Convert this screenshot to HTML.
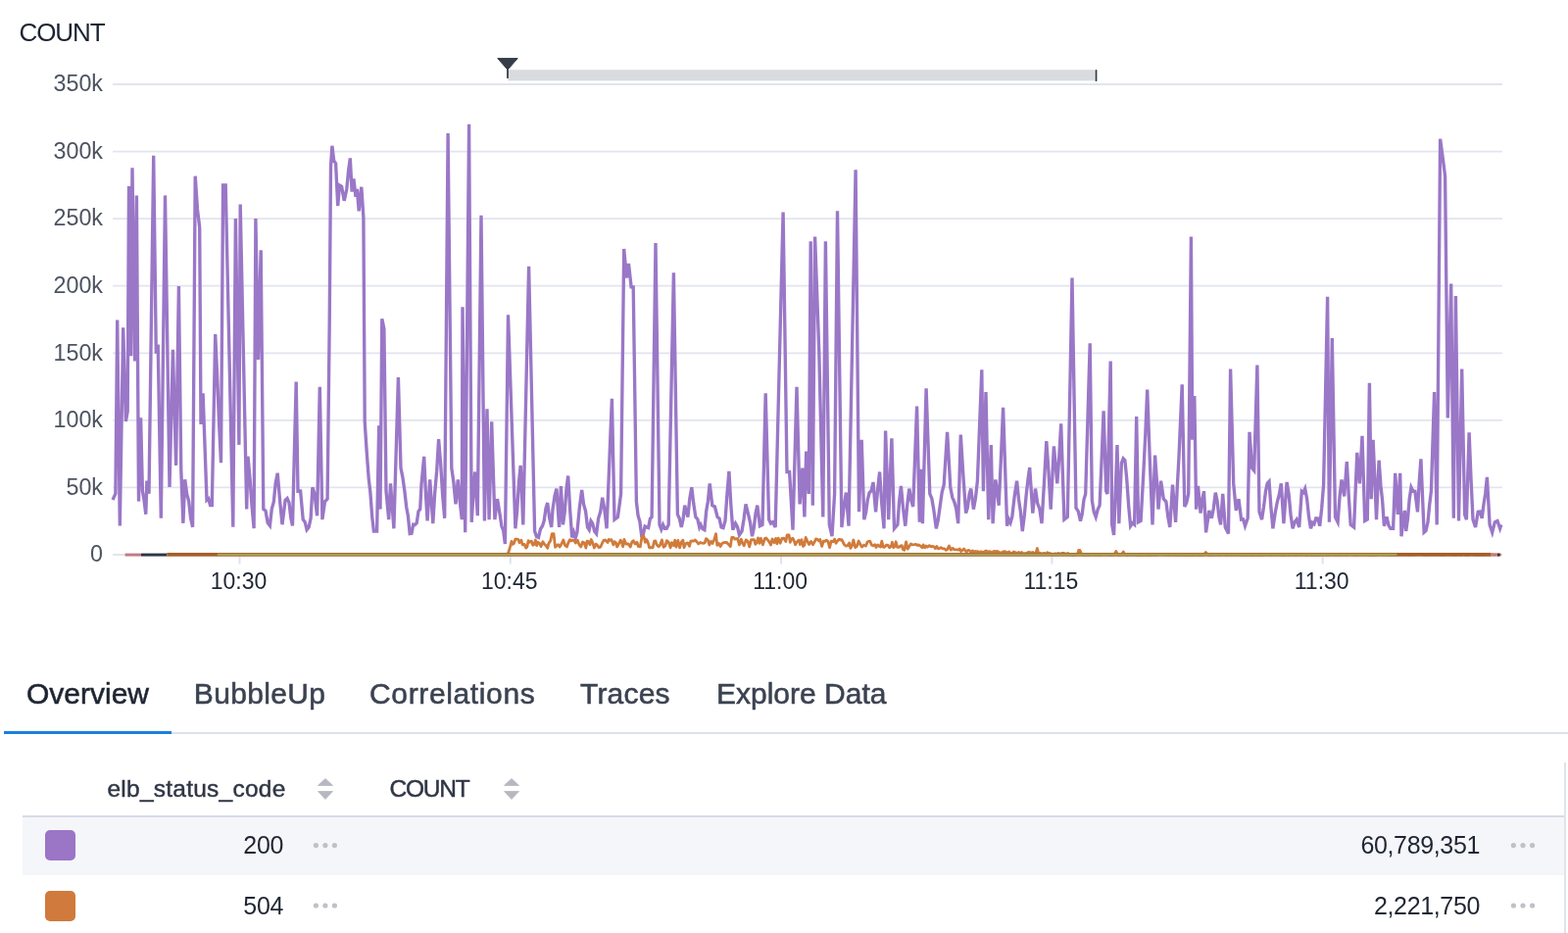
<!DOCTYPE html>
<html><head><meta charset="utf-8"><title>Honeycomb query</title>
<style>
html,body{margin:0;padding:0;background:#fff;}
body{width:1600px;height:952px;position:relative;overflow:hidden;font-family:"Liberation Sans",Arial,sans-serif;}
.abs{position:absolute;white-space:nowrap;line-height:1;}
.tab{position:absolute;top:693px;font-size:30px;line-height:1;color:#3b4250;-webkit-text-stroke:0.55px #3b4250;}
.hdr{position:absolute;top:792.8px;font-size:24.5px;line-height:1;color:#2f3644;-webkit-text-stroke:0.45px #2f3644;}
.sort{position:absolute;top:794px;width:16px;height:22px;}
.sw{position:absolute;left:46px;width:30.5px;height:30.5px;border-radius:5px;}
.num{position:absolute;font-size:25px;line-height:1;color:#1f2633;text-align:right;letter-spacing:-0.35px;}
.dots{position:absolute;width:26px;height:6px;}
.dots i{position:absolute;top:0;width:5.4px;height:5.4px;border-radius:50%;background:#c3c6cf;}
</style></head>
<body>
<div class="abs" style="left:19.5px;top:19.6px;font-size:26px;letter-spacing:-1.1px;color:#1b2230;">COUNT</div>
<svg width="1600" height="640" viewBox="0 0 1600 640" style="position:absolute;left:0;top:0">
<line x1="115" y1="86.00" x2="1533" y2="86.00" stroke="#e1e5ef" stroke-width="1.8"/>
<line x1="115" y1="154.57" x2="1533" y2="154.57" stroke="#e1e5ef" stroke-width="1.8"/>
<line x1="115" y1="223.14" x2="1533" y2="223.14" stroke="#e1e5ef" stroke-width="1.8"/>
<line x1="115" y1="291.71" x2="1533" y2="291.71" stroke="#e1e5ef" stroke-width="1.8"/>
<line x1="115" y1="360.28" x2="1533" y2="360.28" stroke="#e1e5ef" stroke-width="1.8"/>
<line x1="115" y1="428.85" x2="1533" y2="428.85" stroke="#e1e5ef" stroke-width="1.8"/>
<line x1="115" y1="497.42" x2="1533" y2="497.42" stroke="#e1e5ef" stroke-width="1.8"/>
<line x1="115" y1="565.99" x2="1533" y2="565.99" stroke="#e1e5ef" stroke-width="1.8"/>
<line x1="244.5" y1="566" x2="244.5" y2="575.6" stroke="#dfe3ec" stroke-width="2"/>
<line x1="520.8" y1="566" x2="520.8" y2="575.6" stroke="#dfe3ec" stroke-width="2"/>
<line x1="797.1" y1="566" x2="797.1" y2="575.6" stroke="#dfe3ec" stroke-width="2"/>
<line x1="1073.4" y1="566" x2="1073.4" y2="575.6" stroke="#dfe3ec" stroke-width="2"/>
<line x1="1349.7" y1="566" x2="1349.7" y2="575.6" stroke="#dfe3ec" stroke-width="2"/>
<text x="105" y="93.2" text-anchor="end" font-family="Liberation Sans, sans-serif" font-size="23.3" fill="#4d5361">350k</text>
<text x="105" y="161.8" text-anchor="end" font-family="Liberation Sans, sans-serif" font-size="23.3" fill="#4d5361">300k</text>
<text x="105" y="230.3" text-anchor="end" font-family="Liberation Sans, sans-serif" font-size="23.3" fill="#4d5361">250k</text>
<text x="105" y="298.9" text-anchor="end" font-family="Liberation Sans, sans-serif" font-size="23.3" fill="#4d5361">200k</text>
<text x="105" y="367.5" text-anchor="end" font-family="Liberation Sans, sans-serif" font-size="23.3" fill="#4d5361">150k</text>
<text x="105" y="436.0" text-anchor="end" font-family="Liberation Sans, sans-serif" font-size="23.3" fill="#4d5361">100k</text>
<text x="105" y="504.6" text-anchor="end" font-family="Liberation Sans, sans-serif" font-size="23.3" fill="#4d5361">50k</text>
<text x="105" y="573.2" text-anchor="end" font-family="Liberation Sans, sans-serif" font-size="23.3" fill="#4d5361">0</text>
<text x="243.5" y="601" text-anchor="middle" font-family="Liberation Sans, sans-serif" font-size="23" fill="#1f2633">10:30</text>
<text x="519.8" y="601" text-anchor="middle" font-family="Liberation Sans, sans-serif" font-size="23" fill="#1f2633">10:45</text>
<text x="796.1" y="601" text-anchor="middle" font-family="Liberation Sans, sans-serif" font-size="23" fill="#1f2633">11:00</text>
<text x="1072.4" y="601" text-anchor="middle" font-family="Liberation Sans, sans-serif" font-size="23" fill="#1f2633">11:15</text>
<text x="1348.7" y="601" text-anchor="middle" font-family="Liberation Sans, sans-serif" font-size="23" fill="#1f2633">11:30</text>
<rect x="518.3" y="71.2" width="598.6" height="11.2" fill="#dadbdf"/>
<path d="M507.8,59.6 L528.2,59.6 L518.6,70.5 L517.4,70.5 Z" fill="#363c48" stroke="#363c48" stroke-width="1" stroke-linejoin="round"/>
<line x1="518" y1="70" x2="518" y2="79.2" stroke="#363c48" stroke-width="1.8" stroke-linecap="round"/>
<line x1="1118.5" y1="72" x2="1118.5" y2="82.2" stroke="#363c48" stroke-width="1.8" stroke-linecap="round"/>
<path d="M115.0,510.0 L117.9,503.7 L119.7,326.6 L122.3,536.5 L125.7,334.4 L128.4,430.0 L130.2,419.7 L131.5,190.0 L133.6,363.3 L135.0,171.3 L137.6,368.6 L139.4,199.4 L141.5,511.6 L143.6,426.3 L145.4,501.0 L147.1,510.7 L148.8,524.7 L149.9,490.6 L152.0,503.7 L156.7,158.7 L159.3,360.7 L161.2,351.5 L164.3,528.7 L168.5,199.4 L173.0,497.0 L176.4,356.7 L179.6,474.9 L182.4,292.0 L184.8,480.0 L186.9,533.9 L188.7,489.3 L190.7,504.3 L192.6,511.1 L194.6,528.7 L196.6,537.8 L199.2,179.7 L201.5,213.9 L203.7,232.0 L205.0,432.9 L207.1,401.4 L211.0,510.3 L212.8,508.9 L214.5,515.5 L216.3,515.5 L219.7,341.0 L221.6,383.1 L223.6,432.1 L225.5,472.2 L227.6,189.0 L230.2,189.0 L237.8,537.8 L240.4,223.0 L243.9,453.9 L245.2,208.6 L251.7,519.5 L253.0,465.7 L255.0,488.0 L257.1,516.9 L259.1,539.2 L260.9,223.0 L263.5,367.0 L266.2,255.3 L268.8,519.5 L271.0,521.2 L273.2,533.6 L275.4,536.5 L277.3,519.4 L279.3,512.3 L281.2,493.0 L283.2,482.7 L285.6,510.9 L288.0,535.2 L291.1,510.3 L293.1,508.5 L295.0,512.9 L296.8,528.4 L298.5,536.5 L302.2,389.6 L304.0,501.2 L306.6,501.0 L309.2,530.0 L311.1,532.4 L313.1,540.6 L315.1,538.1 L317.1,528.8 L318.9,497.3 L321.0,503.9 L323.6,526.2 L326.3,394.9 L328.9,530.1 L331.5,511.8 L334.1,509.1 L336.2,330.0 L337.5,170.0 L338.9,148.8 L340.7,164.0 L342.6,166.7 L344.7,210.0 L346.5,189.0 L348.6,190.3 L351.2,204.8 L353.8,193.0 L355.6,174.0 L357.3,161.4 L359.1,195.6 L360.9,182.4 L363.0,200.8 L364.4,193.0 L366.2,215.3 L368.8,190.8 L370.9,221.8 L372.2,430.3 L374.2,461.0 L376.2,488.1 L377.9,502.6 L379.7,527.1 L381.4,542.0 L384.6,542.0 L386.7,434.3 L388.0,519.6 L389.8,325.3 L391.9,335.8 L394.0,501.2 L396.7,530.1 L398.5,493.4 L401.9,539.3 L406.4,385.1 L409.0,477.6 L410.9,487.1 L412.9,501.2 L414.7,517.3 L416.4,526.5 L418.2,544.6 L420.0,544.3 L421.7,535.1 L423.5,535.4 L425.2,533.8 L427.0,521.6 L428.7,519.6 L430.0,494.7 L432.7,465.8 L434.4,502.5 L436.1,531.5 L438.7,489.4 L441.8,534.1 L443.7,502.9 L445.7,480.4 L447.6,448.2 L449.6,472.4 L451.7,505.8 L453.7,528.8 L457.1,135.9 L460.8,477.6 L462.9,492.3 L465.0,514.4 L467.3,489.4 L469.3,511.6 L471.3,530.1 L472.0,313.3 L474.7,543.3 L478.6,126.8 L481.2,532.8 L482.9,505.2 L484.7,481.5 L487.3,526.2 L491.0,219.7 L494.4,531.5 L497.0,417.2 L499.1,530.1 L501.7,430.3 L504.9,530.1 L507.5,509.1 L510.1,524.9 L511.9,537.1 L513.6,541.1 L515.4,555.1 L518.5,321.3 L525.9,539.3 L527.7,520.5 L529.4,493.3 L531.2,475.0 L533.8,535.4 L539.6,271.8 L545.6,542.0 L547.5,547.6 L549.5,548.5 L551.5,539.8 L553.5,536.7 L555.2,531.4 L557.0,518.5 L558.7,513.1 L560.7,528.6 L562.7,538.0 L564.0,519.6 L566.0,506.1 L567.9,498.6 L570.6,538.0 L572.4,496.0 L574.5,535.4 L576.2,522.5 L578.0,498.9 L579.7,485.5 L581.7,520.8 L583.7,548.5 L585.4,543.1 L587.2,549.0 L588.9,543.3 L591.3,518.4 L593.7,500.0 L595.6,514.7 L597.6,521.7 L599.5,538.0 L601.2,540.6 L603.0,531.6 L604.7,534.1 L606.7,542.3 L608.6,544.6 L610.6,529.0 L612.7,522.2 L614.7,507.8 L616.9,520.0 L619.1,539.3 L624.4,406.7 L627.0,530.1 L630.4,527.5 L633.6,503.9 L636.7,253.9 L639.4,283.6 L641.5,269.0 L644.1,292.8 L646.2,292.8 L649.4,511.8 L651.1,526.1 L652.9,532.2 L654.6,545.9 L656.4,545.0 L658.1,537.0 L659.9,538.0 L661.6,538.5 L663.4,529.2 L665.1,527.5 L669.0,248.1 L673.0,535.4 L674.8,540.2 L676.5,535.4 L678.3,539.3 L680.2,539.3 L682.2,535.4 L687.4,278.3 L691.4,524.9 L693.3,529.1 L695.3,538.0 L697.0,530.3 L698.7,515.7 L701.9,527.5 L703.8,508.7 L705.8,497.3 L707.8,514.1 L709.8,527.5 L711.8,529.7 L713.7,538.0 L715.0,535.4 L717.0,539.7 L718.9,540.6 L720.7,521.5 L722.4,511.5 L724.2,493.4 L726.8,515.7 L729.4,517.0 L732.1,527.5 L734.0,529.0 L736.0,538.0 L738.0,538.7 L740.0,531.5 L742.0,503.3 L743.9,480.8 L745.8,514.7 L747.8,540.6 L750.5,534.1 L752.5,537.7 L754.4,545.9 L757.0,542.0 L759.0,530.0 L761.0,514.4 L763.6,524.9 L765.5,533.0 L767.5,547.2 L769.3,538.4 L771.0,524.1 L772.8,515.7 L775.4,536.7 L778.0,535.4 L781.2,401.4 L784.6,530.1 L786.5,534.0 L788.5,532.8 L791.2,538.0 L793.8,430.3 L799.1,216.6 L803.0,481.5 L805.6,481.5 L809.0,540.6 L813.0,394.9 L816.1,514.4 L818.8,477.6 L820.9,527.5 L822.7,460.5 L825.3,503.9 L827.2,246.3 L829.3,515.7 L831.6,241.5 L835.8,359.4 L839.8,527.5 L842.4,246.3 L846.3,535.4 L849.0,547.2 L851.6,503.9 L854.5,215.3 L858.9,538.0 L861.1,517.2 L863.4,502.6 L866.0,536.7 L873.1,173.2 L876.5,522.3 L879.2,448.7 L881.8,530.1 L883.6,522.9 L885.3,510.1 L887.1,502.6 L889.0,501.0 L891.0,492.0 L893.6,522.3 L895.6,499.5 L897.6,481.5 L899.8,514.3 L902.0,539.3 L903.6,439.5 L906.7,530.1 L909.9,447.4 L912.5,539.3 L915.9,535.4 L917.6,511.9 L919.4,496.0 L921.6,518.9 L923.8,536.7 L925.8,514.9 L927.8,498.6 L929.8,510.6 L931.7,517.0 L935.6,414.6 L938.3,532.8 L939.6,478.9 L941.4,534.1 L945.1,396.2 L948.8,503.9 L950.8,508.6 L952.7,519.6 L955.3,539.3 L957.3,530.5 L959.3,515.7 L961.2,502.3 L963.2,494.7 L966.6,440.8 L969.8,497.3 L971.8,507.6 L973.7,511.8 L975.7,519.1 L977.7,534.1 L980.3,443.5 L982.9,485.5 L985.6,523.6 L987.3,518.1 L989.1,504.3 L990.8,498.6 L993.4,519.6 L995.4,508.5 L997.4,490.7 L1001.8,377.3 L1003.4,501.2 L1006.0,400.1 L1008.7,530.1 L1011.3,454.0 L1013.1,534.1 L1015.8,489.4 L1017.5,500.4 L1019.2,515.7 L1021.4,468.1 L1023.6,415.9 L1027.6,536.7 L1029.3,529.7 L1031.1,533.4 L1032.8,527.5 L1035.2,506.2 L1037.6,490.7 L1039.5,509.4 L1041.4,522.3 L1043.3,542.0 L1045.3,525.9 L1047.3,503.9 L1049.0,488.9 L1050.7,477.1 L1053.8,523.6 L1056.5,498.6 L1058.7,513.5 L1060.8,519.1 L1063.0,534.1 L1065.4,493.8 L1067.8,450.0 L1070.0,481.7 L1072.2,519.6 L1075.4,455.3 L1078.8,493.4 L1080.8,465.6 L1082.7,432.4 L1085.9,530.1 L1089.3,527.5 L1094.0,283.6 L1098.0,518.3 L1100.2,521.7 L1102.5,531.5 L1104.2,524.7 L1106.0,509.8 L1107.7,503.9 L1112.2,350.2 L1114.3,510.4 L1116.2,522.3 L1118.2,527.5 L1120.2,519.9 L1122.1,515.7 L1124.1,469.2 L1126.1,419.3 L1128.7,501.2 L1130.0,503.9 L1133.2,368.6 L1134.7,535.4 L1136.6,545.9 L1140.0,454.0 L1141.8,534.1 L1144.4,472.4 L1146.2,467.8 L1147.9,469.7 L1149.7,488.1 L1151.7,516.3 L1153.6,536.7 L1155.6,533.8 L1157.6,535.4 L1159.7,425.1 L1161.5,532.8 L1164.1,531.5 L1166.8,482.9 L1168.8,442.9 L1170.7,397.5 L1173.3,469.7 L1176.0,535.4 L1178.6,464.5 L1180.3,489.0 L1182.0,519.6 L1184.6,490.7 L1187.3,509.1 L1189.9,511.8 L1191.8,527.3 L1193.8,538.0 L1196.5,494.7 L1199.6,532.8 L1201.3,496.8 L1203.0,465.8 L1206.2,392.2 L1208.8,517.0 L1210.8,512.8 L1212.7,503.9 L1215.4,241.5 L1216.7,448.7 L1218.8,404.1 L1220.6,519.6 L1222.5,496.0 L1225.1,523.6 L1226.8,509.9 L1228.5,501.2 L1230.6,543.3 L1233.8,520.9 L1236.4,528.8 L1238.3,518.7 L1240.3,502.6 L1242.1,511.2 L1243.8,527.0 L1245.6,535.4 L1247.7,503.9 L1250.3,538.0 L1253.5,544.6 L1255.6,376.5 L1258.7,493.4 L1261.3,520.9 L1264.0,509.1 L1266.6,530.1 L1268.5,529.9 L1270.5,536.7 L1273.2,528.8 L1275.0,440.8 L1277.6,477.6 L1279.7,480.2 L1282.9,372.5 L1285.0,522.3 L1287.6,530.1 L1289.5,517.3 L1291.5,501.2 L1293.2,493.3 L1295.0,491.3 L1297.0,518.7 L1298.9,539.3 L1301.2,523.2 L1303.4,511.8 L1305.3,504.7 L1307.3,493.4 L1309.9,534.1 L1313.1,492.0 L1315.1,504.2 L1317.1,525.7 L1319.1,539.3 L1321.1,532.7 L1323.1,530.1 L1325.7,538.0 L1328.3,501.2 L1330.0,502.5 L1331.7,498.6 L1333.6,508.9 L1335.6,527.6 L1337.5,539.3 L1339.3,533.4 L1341.0,534.7 L1342.8,528.8 L1344.8,529.1 L1346.7,536.7 L1348.7,518.4 L1350.6,494.7 L1354.6,302.7 L1356.4,532.8 L1359.3,345.0 L1362.5,527.5 L1365.1,532.8 L1367.0,507.4 L1369.0,489.4 L1371.7,506.5 L1374.3,471.0 L1376.2,505.2 L1378.2,535.4 L1381.6,538.0 L1384.8,461.8 L1387.4,493.4 L1390.0,444.8 L1392.7,531.5 L1395.3,530.1 L1397.4,390.9 L1399.2,509.1 L1401.1,448.7 L1402.8,487.0 L1404.5,530.1 L1407.1,469.7 L1408.9,495.2 L1410.6,510.6 L1412.4,536.7 L1415.0,527.5 L1417.0,536.1 L1418.9,539.3 L1421.6,539.3 L1423.7,482.9 L1426.3,524.9 L1428.7,482.9 L1430.0,547.2 L1431.7,531.9 L1433.4,520.9 L1434.7,542.0 L1436.5,529.0 L1438.2,509.3 L1440.0,497.3 L1442.0,501.3 L1443.9,501.2 L1446.5,522.3 L1448.2,491.8 L1449.9,468.4 L1453.1,543.3 L1455.0,541.7 L1457.0,532.8 L1458.7,515.0 L1460.4,501.2 L1463.6,400.1 L1466.2,535.4 L1469.6,141.7 L1472.8,165.4 L1474.6,179.8 L1477.3,426.4 L1480.7,289.6 L1483.3,528.8 L1485.4,302.0 L1488.5,531.5 L1491.7,376.5 L1494.6,524.9 L1496.4,530.1 L1499.1,441.4 L1501.0,488.0 L1503.0,530.1 L1505.6,538.0 L1508.2,522.3 L1510.2,522.0 L1512.2,528.8 L1514.0,514.4 L1515.7,503.7 L1517.4,486.8 L1520.1,535.4 L1522.7,543.3 L1525.3,532.8 L1528.0,531.5 L1530.6,539.3 L1531.9,535.4" fill="none" stroke="#9a77c7" stroke-width="3.35" stroke-linejoin="miter" stroke-miterlimit="4" stroke-linecap="butt"/>
<path d="M518.0,566.0 L520.0,560.0 L522.0,552.4 L523.2,555.4 L524.4,554.5 L525.8,550.2 L527.4,550.1 L528.9,550.5 L530.1,553.8 L531.9,551.2 L533.2,555.8 L535.2,555.4 L536.6,559.1 L537.8,558.1 L539.1,551.7 L540.3,553.3 L542.2,552.1 L543.8,556.3 L545.2,555.4 L546.4,551.0 L547.7,556.6 L549.1,553.3 L550.8,554.6 L552.1,557.6 L553.9,552.7 L555.5,555.2 L557.4,557.1 L558.7,559.3 L559.9,554.3 L561.7,551.9 L563.3,544.6 L565.0,544.6 L566.6,558.4 L568.0,556.8 L569.6,555.7 L571.1,558.1 L573.1,554.8 L574.8,551.0 L576.5,556.3 L578.5,557.9 L579.8,554.0 L581.5,550.7 L583.1,552.0 L584.3,551.0 L586.0,551.7 L587.4,554.0 L589.3,551.2 L590.8,555.4 L592.7,557.9 L594.5,553.0 L596.0,553.7 L597.9,559.1 L599.1,552.1 L600.4,552.6 L602.0,555.8 L603.3,550.5 L604.8,553.8 L606.4,559.0 L608.1,555.1 L609.8,556.5 L610.9,558.5 L612.7,558.3 L614.6,554.0 L616.0,551.4 L617.7,551.0 L618.8,552.3 L620.1,553.5 L621.2,550.4 L622.5,551.3 L623.9,550.6 L625.8,555.9 L627.0,552.6 L628.4,553.6 L629.6,558.0 L631.6,554.5 L633.2,551.1 L634.4,553.4 L635.7,557.8 L636.9,550.5 L638.9,555.1 L640.1,555.2 L641.3,555.0 L643.2,558.1 L645.0,552.6 L646.4,551.8 L648.2,555.1 L650.0,553.2 L651.3,557.5 L653.3,557.9 L655.1,547.2 L656.9,547.2 L658.4,553.4 L659.6,550.5 L660.9,552.5 L662.6,558.8 L664.1,558.6 L666.1,558.8 L667.6,552.1 L668.9,551.9 L670.1,555.8 L672.1,557.7 L673.6,556.0 L675.4,550.9 L677.1,558.3 L678.9,556.9 L680.4,551.7 L682.2,553.1 L684.1,558.8 L685.5,553.7 L687.5,556.6 L688.7,551.2 L690.0,558.2 L691.8,551.4 L693.6,558.9 L695.3,553.2 L696.9,551.2 L698.0,558.7 L699.7,554.7 L701.7,553.9 L703.5,557.4 L704.8,552.2 L706.2,552.0 L707.8,552.2 L709.3,551.0 L711.2,553.0 L712.7,555.0 L714.6,553.5 L716.6,554.2 L718.2,554.3 L719.3,553.6 L720.5,549.6 L722.4,551.1 L723.9,556.0 L725.5,552.4 L727.0,554.5 L728.9,550.4 L730.5,544.6 L731.8,556.3 L733.4,554.4 L735.1,557.5 L736.6,554.8 L738.2,553.8 L739.9,553.3 L741.5,553.5 L743.4,555.4 L745.3,557.6 L746.7,548.5 L748.6,548.5 L749.8,550.1 L751.3,549.6 L752.7,549.6 L754.4,556.0 L756.3,550.3 L758.0,554.9 L759.2,556.9 L761.2,550.9 L763.2,552.5 L764.7,557.8 L766.6,550.6 L768.0,550.6 L769.5,550.6 L770.8,555.3 L772.0,553.8 L773.5,548.9 L774.9,554.4 L776.4,549.3 L778.4,555.8 L780.4,549.6 L781.7,549.0 L783.5,551.1 L784.7,552.5 L786.6,556.0 L788.0,550.0 L789.9,553.7 L791.6,549.4 L792.8,554.8 L794.3,549.2 L796.2,554.2 L798.0,549.3 L799.9,549.1 L801.8,552.6 L803.2,545.9 L805.1,545.9 L806.3,553.4 L807.7,549.7 L808.9,549.2 L810.2,551.6 L811.6,555.7 L812.9,553.4 L814.2,552.0 L815.3,551.2 L816.4,555.6 L818.0,550.7 L819.5,557.5 L820.7,556.5 L822.2,548.5 L824.1,552.8 L825.6,555.5 L827.6,552.4 L829.5,555.7 L831.1,553.1 L832.5,550.0 L833.8,550.1 L835.5,551.9 L836.8,550.4 L838.6,557.5 L840.3,552.2 L841.7,552.4 L843.2,551.2 L844.7,552.2 L846.6,558.7 L848.2,552.1 L850.2,552.8 L851.6,550.1 L853.1,554.4 L854.6,551.9 L856.2,550.2 L857.5,551.0 L859.0,550.6 L860.1,553.0 L861.4,555.6 L863.0,557.1 L864.7,556.9 L866.6,554.0 L867.9,559.4 L869.2,557.1 L870.9,551.0 L872.7,558.7 L874.4,557.3 L876.2,552.0 L877.8,555.4 L879.6,558.1 L881.5,556.2 L883.4,557.1 L885.1,553.1 L886.2,552.3 L887.7,552.1 L889.5,556.2 L891.2,556.9 L892.9,555.7 L894.0,558.5 L895.8,555.9 L897.3,557.4 L898.5,558.1 L899.8,552.2 L901.2,558.1 L902.5,558.3 L904.4,556.2 L905.9,556.1 L907.6,558.8 L909.2,557.7 L910.4,553.3 L911.7,558.8 L913.1,557.3 L914.2,552.8 L915.6,558.3 L917.3,558.4 L918.7,557.1 L920.2,556.7 L921.4,560.6 L922.7,561.4 L924.6,552.9 L926.1,560.2 L928.1,556.9 L929.4,554.9 L931.4,555.9 L933.0,555.7 L934.6,555.3 L935.8,556.3 L937.4,556.0 L939.1,556.9 L941.0,558.7 L942.1,555.9 L943.7,558.8 L945.0,557.1 L946.4,558.3 L948.3,556.6 L950.1,557.8 L951.3,557.4 L953.0,557.8 L954.4,559.6 L955.8,557.5 L957.5,559.9 L958.9,559.5 L960.1,558.6 L961.9,559.9 L963.9,559.8 L965.2,561.4 L966.5,560.8 L968.5,557.0 L970.3,561.1 L972.2,559.4 L973.8,560.8 L974.9,560.9 L976.5,560.9 L978.1,561.2 L979.3,560.0 L980.5,562.5 L981.9,561.6 L983.7,560.1 L985.0,562.1 L986.4,562.9 L987.8,561.3 L989.1,561.7 L991.0,563.5 L992.3,561.9 L994.3,563.4 L995.5,562.4 L996.7,563.1 L997.9,562.7 L999.2,563.5 L1001.1,562.8 L1002.6,563.5 L1004.1,563.4 L1005.6,562.2 L1006.9,562.1 L1008.1,564.0 L1009.8,562.6 L1011.1,563.2 L1012.4,563.8 L1013.9,562.4 L1015.8,562.8 L1016.9,562.4 L1018.6,562.8 L1020.1,564.1 L1021.2,564.0 L1023.2,563.2 L1025.1,562.7 L1026.4,563.0 L1027.6,564.5 L1029.3,562.9 L1031.1,564.1 L1032.9,564.6 L1034.5,563.0 L1036.3,563.8 L1038.2,564.4 L1039.6,563.5 L1040.9,564.5 L1042.6,563.5 L1043.8,565.0 L1045.4,564.7 L1046.7,564.8 L1047.8,564.4 L1049.3,563.4 L1051.0,563.7 L1052.5,564.2 L1053.9,563.5 L1055.6,564.6 L1056.7,565.4 L1058.4,559.5 L1059.8,564.8 L1061.7,564.4 L1062.8,564.9 L1064.3,564.9 L1065.6,564.4 L1067.3,565.6 L1068.6,563.8 L1070.0,564.4 L1071.3,564.6 L1073.1,565.0 L1075.1,565.8 L1076.3,564.8 L1077.8,565.2 L1079.8,564.5 L1081.2,564.8 L1083.2,564.6 L1084.3,564.3 L1085.8,564.5 L1087.7,565.2 L1089.7,564.5 L1091.1,565.8 L1093.0,565.9 L1094.1,566.0 L1095.6,566.0 L1097.0,565.8 L1098.1,565.9 L1099.5,565.7 L1100.7,561.5 L1102.0,561.5 L1103.8,565.8 L1105.3,565.7 L1106.9,566.0 L1108.8,565.8 L1110.2,565.7 L1111.3,566.1 L1113.2,565.9 L1114.3,565.6 L1115.5,565.7 L1116.8,565.9 L1118.7,566.0 L1120.1,565.7 L1121.7,565.9 L1123.5,566.0 L1124.8,565.6 L1126.6,565.7 L1128.2,565.7 L1129.4,565.9 L1130.9,565.7 L1132.9,566.1 L1134.2,566.1 L1135.7,565.7 L1137.0,565.8 L1138.8,562.5 L1140.6,566.1 L1141.9,566.0 L1143.4,565.9 L1144.5,565.8 L1146.3,563.0 L1147.5,565.6 L1149.1,566.0 L1151.1,565.7 L1153.0,565.9 L1154.2,565.7 L1155.8,565.9 L1157.3,565.9 L1158.8,566.1 L1160.5,565.9 L1162.3,566.0 L1163.5,565.8 L1164.9,566.1 L1166.3,565.9 L1167.6,565.9 L1168.9,565.8 L1170.8,566.1 L1172.2,566.1 L1174.2,566.2 L1175.5,565.8 L1177.2,565.6 L1178.4,566.2 L1180.2,565.8 L1182.2,565.6 L1183.5,565.7 L1184.8,565.6 L1186.4,565.7 L1187.9,565.8 L1189.4,565.9 L1191.2,565.7 L1192.4,566.1 L1194.0,565.9 L1195.4,565.8 L1196.7,565.9 L1198.4,566.0 L1199.6,565.6 L1201.0,566.0 L1202.3,566.0 L1203.6,565.8 L1205.2,565.7 L1206.4,566.1 L1208.0,566.0 L1209.2,565.8 L1210.9,566.1 L1212.2,566.0 L1214.2,566.0 L1215.8,566.0 L1217.3,565.8 L1219.3,566.0 L1220.6,565.9 L1221.8,565.6 L1223.7,566.1 L1225.6,566.1 L1227.5,566.2 L1228.7,565.6 L1230.3,563.5 L1232.2,565.7 L1233.9,566.0 L1235.5,565.8 L1236.8,566.2 L1238.7,565.7 L1240.3,565.8 L1242.3,565.8 L1243.5,565.7 L1245.4,566.2 L1246.6,565.7 L1248.0,565.7 L1249.7,565.8 L1250.9,565.9 L1252.2,566.1 L1254.1,565.8 L1255.4,565.9 L1256.8,566.2 L1258.3,565.7 L1259.6,565.9 L1261.5,565.6 L1263.1,565.9 L1264.2,565.8 L1265.5,566.1 L1267.1,566.0 L1268.4,566.1 L1270.1,566.1 L1271.7,566.1 L1273.2,565.6 L1274.9,566.2 L1276.2,565.9 L1278.0,566.1 L1279.3,566.2 L1280.5,565.8 L1282.0,565.7 L1283.5,566.2 L1284.6,566.0 L1285.8,565.9 L1287.6,566.2 L1288.7,566.2 L1290.2,565.7 L1291.4,565.8 L1293.4,565.9 L1295.2,565.8 L1297.2,566.2 L1299.1,565.7 L1300.4,565.9 L1302.3,565.7 L1303.8,565.9 L1305.0,565.7 L1306.3,565.8 L1307.6,566.2 L1309.5,565.8 L1310.8,566.2 L1312.2,565.6 L1313.5,565.8 L1315.4,566.0 L1317.3,565.8 L1319.1,565.7 L1320.7,566.0 L1322.1,565.8 L1323.7,566.1 L1325.6,565.7 L1327.6,566.0 L1329.1,565.8 L1330.4,565.6 L1332.0,566.0 L1333.8,566.1 L1335.1,565.9 L1336.2,565.8 L1337.6,566.0 L1339.5,566.1 L1341.2,566.0 L1342.3,565.6 L1343.6,566.1 L1345.1,566.2 L1347.0,565.8 L1348.3,566.0 L1349.4,565.6 L1350.8,565.7 L1352.2,565.9 L1353.9,566.1 L1355.1,566.1 L1356.7,565.8 L1358.6,565.9 L1359.9,565.7 L1361.5,565.8 L1363.3,566.1 L1364.7,565.6 L1366.4,566.1 L1367.8,566.0 L1369.3,565.7 L1371.0,565.9 L1372.9,565.7 L1374.5,566.1 L1375.8,565.7 L1377.6,565.6 L1379.2,565.7 L1380.5,565.8 L1382.1,566.2 L1383.8,565.8 L1385.0,566.0 L1386.4,565.7 L1388.3,565.9 L1390.1,565.6 L1391.9,565.9 L1393.4,565.9 L1394.9,565.9 L1396.1,565.9 L1397.3,566.0 L1399.0,566.0 L1400.9,565.9 L1402.2,566.1 L1403.7,565.9 L1405.3,565.9 L1407.0,565.6 L1408.3,565.7 L1409.4,565.9 L1410.7,565.9 L1412.7,565.9 L1414.1,565.7 L1415.4,565.9 L1417.4,566.0 L1419.1,566.0 L1421.1,566.2 L1422.9,566.0 L1424.8,566.1 L1426.5,566.1 L1427.9,565.9 L1429.6,565.7 L1431.5,565.8 L1432.6,565.7 L1434.6,566.0 L1435.8,565.6 L1436.9,566.0 L1438.6,566.0 L1440.4,565.7 L1442.0,566.0 L1443.8,565.8 L1445.7,565.7 L1447.6,565.7 L1449.6,565.7 L1450.8,565.7 L1452.0,565.8 L1453.8,566.0 L1455.7,566.0 L1457.0,565.7 L1458.2,565.9 L1459.5,566.0 L1461.0,565.6 L1462.3,565.9 L1464.0,566.0 L1465.4,565.6 L1467.0,565.8 L1468.6,565.6 L1470.1,566.1 L1471.9,566.0 L1473.6,566.2 L1474.9,565.8 L1476.1,565.8 L1477.4,565.6 L1478.7,565.9 L1480.6,565.6 L1482.2,566.2 L1484.0,565.8 L1485.5,566.0 L1487.4,565.9 L1489.3,565.9 L1490.6,566.0 L1492.2,565.7 L1493.8,565.7 L1495.7,566.0 L1497.5,566.0 L1498.9,566.1 L1500.3,565.7 L1501.5,565.7 L1502.6,565.8 L1504.0,565.7 L1505.5,566.1 L1507.4,565.9 L1508.9,566.2 L1510.7,565.9 L1512.4,566.0 L1513.8,565.8 L1515.7,566.0 L1517.4,565.8 L1518.9,565.9 L1520.5,565.8 L1522.1,565.7 L1523.4,565.8 L1524.7,566.0 L1526.6,565.8 L1527.8,565.9 L1529.2,566.2 L1530.5,566.0" fill="none" stroke="#d17b3b" stroke-width="2.8" stroke-linejoin="round" stroke-linecap="round"/>
<line x1="127.6" y1="566.1" x2="144" y2="566.1" stroke="#c27c84" stroke-width="3"/>
<line x1="144" y1="566.1" x2="170.3" y2="566.1" stroke="#2d3646" stroke-width="3"/>
<line x1="170.3" y1="565.9" x2="1521" y2="565.9" stroke="#a2602c" stroke-width="3.8"/>
<line x1="221.8" y1="565.8" x2="1425.5" y2="565.8" stroke="#a89c52" stroke-width="2.2"/>
<line x1="1521" y1="566.1" x2="1528" y2="566.1" stroke="#c27c84" stroke-width="3"/>
<line x1="1528" y1="566.1" x2="1530.5" y2="566.1" stroke="#2d3646" stroke-width="3"/>
</svg>
<div class="tab" style="left:27px;color:#1e2532;-webkit-text-stroke-color:#1e2532;">Overview</div>
<div class="tab" style="left:197.8px;letter-spacing:0.33px;">BubbleUp</div>
<div class="tab" style="left:377px;letter-spacing:0.64px;">Correlations</div>
<div class="tab" style="left:592px;letter-spacing:0.2px;">Traces</div>
<div class="tab" style="left:731px;">Explore Data</div>
<div style="position:absolute;left:175px;top:747px;width:1425px;height:1.6px;background:#dde1ec;"></div>
<div style="position:absolute;left:4px;top:746px;width:171px;height:3px;background:#1b7fdc;"></div>

<div class="hdr" style="left:109.5px;letter-spacing:0.24px;">elb_status_code</div>
<svg class="sort" style="left:324px" viewBox="0 0 16 22"><path d="M8,0.5 L15.5,7.5 L0.5,7.5 Z M0.5,13.5 L15.5,13.5 L8,21.5 Z" fill="#b6b8c1" stroke="#b6b8c1" stroke-width="0.8" stroke-linejoin="round"/></svg>
<div class="hdr" style="left:397.5px;letter-spacing:-1.2px;">COUNT</div>
<svg class="sort" style="left:514px" viewBox="0 0 16 22"><path d="M8,0.5 L15.5,7.5 L0.5,7.5 Z M0.5,13.5 L15.5,13.5 L8,21.5 Z" fill="#b6b8c1" stroke="#b6b8c1" stroke-width="0.8" stroke-linejoin="round"/></svg>
<div style="position:absolute;left:1596px;top:778px;width:1.6px;height:180px;background:#dfe3ec;"></div>
<div style="position:absolute;left:23px;top:832px;width:1573px;height:1.6px;background:#d6dbe7;"></div>
<div style="position:absolute;left:23px;top:833.6px;width:1573px;height:59.6px;background:#f5f6fa;"></div>

<div class="sw" style="top:847.4px;background:#9b75c6;"></div>
<div class="num" style="left:189px;width:100px;top:850px;">200</div>
<div class="num" style="left:1310px;width:200px;top:850px;">60,789,351</div>

<div class="sw" style="top:909px;background:#d07a3d;"></div>
<div class="num" style="left:189px;width:100px;top:911.6px;">504</div>
<div class="num" style="left:1310px;width:200px;top:911.6px;">2,221,750</div>
<svg style="position:absolute;left:0;top:840px" width="1600" height="112" viewBox="0 840 1600 112">
<g fill="#bfc1c7">
<circle cx="322.4" cy="862.6" r="2.6"/><circle cx="331.9" cy="862.6" r="2.6"/><circle cx="341.4" cy="862.6" r="2.6"/>
<circle cx="1544.4" cy="862.6" r="2.6"/><circle cx="1554" cy="862.6" r="2.6"/><circle cx="1563.6" cy="862.6" r="2.6"/>
<circle cx="322.4" cy="924" r="2.6"/><circle cx="331.9" cy="924" r="2.6"/><circle cx="341.4" cy="924" r="2.6"/>
<circle cx="1544.4" cy="924" r="2.6"/><circle cx="1554" cy="924" r="2.6"/><circle cx="1563.6" cy="924" r="2.6"/>
</g></svg>
</body></html>
